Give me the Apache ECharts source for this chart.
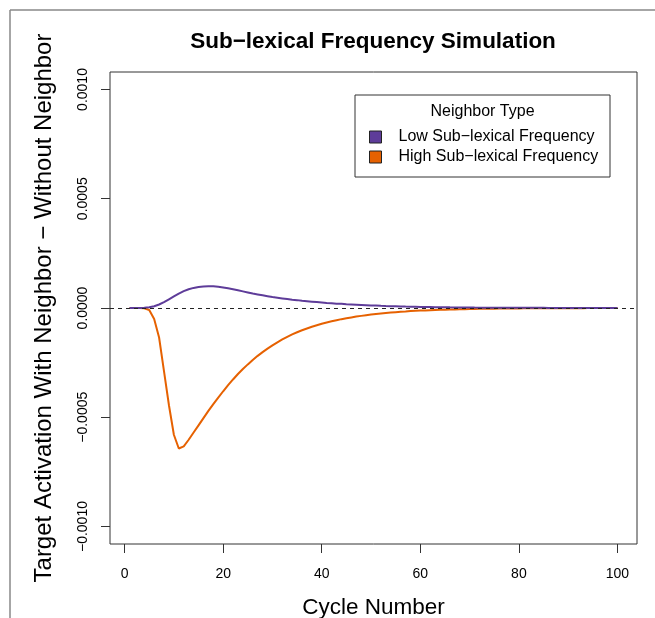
<!DOCTYPE html>
<html>
<head>
<meta charset="utf-8">
<script src="https://cdn.jsdelivr.net/npm/echarts@6/dist/echarts.min.js"></script>
<style>
  html, body { margin: 0; padding: 0; background: #fff; }
  #chart { width: 655px; height: 618px; }
</style>
</head>
<body>
<div id="chart"></div>
<script>
// cycle numbers (x)
var cycles = [
  1, 2, 3, 4, 5, 6, 7, 8, 9, 10, 11, 12, 13, 14, 15, 16, 17, 18, 19, 20,
  21, 22, 23, 24, 25, 26, 27, 28, 29, 30, 31, 32, 33, 34, 35, 36, 37, 38, 39, 40,
  41, 42, 43, 44, 45, 46, 47, 48, 49, 50, 51, 52, 53, 54, 55, 56, 57, 58, 59, 60,
  61, 62, 63, 64, 65, 66, 67, 68, 69, 70, 71, 72, 73, 74, 75, 76, 77, 78, 79, 80,
  81, 82, 83, 84, 85, 86, 87, 88, 89, 90, 91, 92, 93, 94, 95, 96, 97, 98, 99, 100
];

// Low sub-lexical frequency neighbor
var lowFreq = [
  0, 0, 0, 0.000001, 0.000003, 0.000008, 0.000016, 0.000027, 0.00004, 0.000053,
  0.000066, 0.000077, 0.000086, 0.000092, 0.000096, 0.000098, 0.000099, 0.000099, 0.000097, 0.000094,
  0.00009, 0.000086, 0.000081, 0.000076, 0.000071, 0.000066, 0.000062, 0.000058, 0.000054, 0.00005,
  0.000047, 0.000044, 0.000041, 0.000038, 0.000036, 0.000033, 0.000031, 0.000029, 0.000027, 0.000025,
  0.000023, 0.000022, 0.00002, 0.000019, 0.000017, 0.000016, 0.000015, 0.000014, 0.000013, 0.000012,
  0.000011, 0.00001, 9.2e-6, 8.5e-6, 7.8e-6, 7.1e-6, 6.5e-6, 6.0e-6, 5.5e-6, 5.0e-6,
  4.6e-6, 4.2e-6, 3.8e-6, 3.5e-6, 3.2e-6, 2.9e-6, 2.7e-6, 2.4e-6, 2.2e-6, 2.0e-6,
  1.8e-6, 1.7e-6, 1.5e-6, 1.4e-6, 1.3e-6, 1.2e-6, 1.1e-6, 1.0e-6, 0.9e-6, 0.8e-6,
  0.8e-6, 0.7e-6, 0.7e-6, 0.6e-6, 0.6e-6, 0.5e-6, 0.5e-6, 0.5e-6, 0.4e-6, 0.4e-6,
  0.4e-6, 0.3e-6, 0.3e-6, 0.3e-6, 0.3e-6, 0.2e-6, 0.2e-6, 0.2e-6, 0.2e-6, 0.2e-6
];

// High sub-lexical frequency neighbor
var highFreq = [
  0, 0, 0, -0.000001, -0.000009, -0.00005, -0.000135, -0.00029, -0.000445, -0.00058,
  -0.000643, -0.000633, -0.000603, -0.00057, -0.000537, -0.000504, -0.000471, -0.00044, -0.00041, -0.000381,
  -0.000353, -0.000327, -0.000302, -0.000279, -0.000258, -0.000238, -0.000219, -0.000202, -0.000186, -0.000171,
  -0.000157, -0.000144, -0.000132, -0.000121, -0.000111, -0.000102, -0.000094, -0.000086, -0.000079, -0.000072,
  -0.000066, -0.000061, -0.000056, -0.000051, -0.000047, -0.000043, -0.000039, -0.000036, -0.000033, -0.00003,
  -0.000027, -0.000025, -0.000023, -0.000021, -0.000019, -0.000017, -0.000016, -0.000014, -0.000013, -0.000012,
  -0.000011, -0.00001, -9.2e-6, -8.4e-6, -7.7e-6, -7.0e-6, -6.4e-6, -5.8e-6, -5.3e-6, -4.8e-6,
  -4.4e-6, -4.0e-6, -3.6e-6, -3.3e-6, -3.0e-6, -2.7e-6, -2.5e-6, -2.3e-6, -2.1e-6, -1.9e-6,
  -1.7e-6, -1.6e-6, -1.4e-6, -1.3e-6, -1.2e-6, -1.1e-6, -1.0e-6, -0.9e-6, -0.8e-6, -0.7e-6,
  -0.7e-6, -0.6e-6, -0.6e-6, -0.5e-6, -0.5e-6, -0.4e-6, -0.4e-6, -0.4e-6, -0.3e-6, -0.3e-6
];

var xTicks = [0, 20, 40, 60, 80, 100];
var yTicks = [-0.001, -0.0005, 0, 0.0005, 0.001];

function pairs (ys) {
  return cycles.map(function (c, i) { return [c, ys[i]]; });
}

var font = 'Liberation Sans, Arial, Helvetica, sans-serif';
var myChart = echarts.init(document.getElementById('chart'), null, { renderer: 'canvas' });

var option = {
  animation: false,
  backgroundColor: '#fff',
  title: {
    text: 'Sub\u2212lexical Frequency Simulation',
    left: 368,
    top: 25,
    textAlign: 'center',
    textStyle: { fontFamily: font, fontSize: 22.5, fontWeight: 'bold', color: '#000' }
  },
  grid: {
    left: 110, top: 72, right: 18, bottom: 74,
    outerBoundsMode: 'none',
    containLabel: false,
    show: true,
    borderColor: '#333',
    borderWidth: 1
  },
  legend: {
    data: ['Low Sub\u2212lexical Frequency', 'High Sub\u2212lexical Frequency'],
    orient: 'vertical',
    left: 369,
    top: 129,
    padding: 0,
    itemWidth: 12,
    itemHeight: 12,
    itemGap: 4,
    icon: 'rect',
    itemStyle: { borderColor: '#222', borderWidth: 1 },
    textStyle: { fontFamily: font, fontSize: 16, color: '#000', padding: [0, 0, 0, 12] }
  },
  graphic: [
    // outer frame (top + left)
    { type: 'line', shape: { x1: 10, y1: 10, x2: 655, y2: 10 }, style: { stroke: '#888', lineWidth: 1.5 } },
    { type: 'line', shape: { x1: 10, y1: 10, x2: 10, y2: 618 }, style: { stroke: '#888', lineWidth: 1.5 } },
    // legend box + title
    { type: 'rect', shape: { x: 355, y: 95, width: 255, height: 82 }, style: { fill: 'none', stroke: '#333', lineWidth: 1 } },
    { type: 'text', x: 482.5, y: 112, style: { text: 'Neighbor Type', font: '16px ' + font, fill: '#000', textAlign: 'center', textVerticalAlign: 'middle' } }
  ],
  xAxis: {
    type: 'value',
    min: -2.96,
    max: 103.96,
    name: 'Cycle Number',
    nameLocation: 'middle',
    nameGap: 52,
    nameTextStyle: { fontFamily: font, fontSize: 22.5, color: '#000' },
    axisLine: { show: false, onZero: false },
    splitLine: { show: false },
    axisTick: { show: true, length: 9, customValues: xTicks, lineStyle: { color: '#333' } },
    axisLabel: { customValues: xTicks, margin: 23, fontFamily: font, fontSize: 14, color: '#000' }
  },
  yAxis: {
    type: 'value',
    min: -0.00108,
    max: 0.00108,
    name: 'Target Activation With Neighbor \u2212 Without Neighbor',
    nameLocation: 'middle',
    nameGap: 54,
    nameTextStyle: { fontFamily: font, fontSize: 24, color: '#000' },
    axisLine: { show: false, onZero: false },
    splitLine: { show: false },
    axisTick: { show: true, length: 9, customValues: yTicks, lineStyle: { color: '#333' } },
    axisLabel: {
      customValues: yTicks,
      rotate: 90,
      margin: 20,
      fontFamily: font,
      fontSize: 14,
      color: '#000',
      formatter: function (v) {
        return (v < 0 ? '\u2212' : '') + Math.abs(v).toFixed(4);
      }
    }
  },
  series: [
    {
      name: 'High Sub\u2212lexical Frequency',
      type: 'line',
      data: pairs(highFreq),
      color: '#e66101',
      showSymbol: false,
      symbol: 'none',
      z: 2,
      lineStyle: { width: 2, color: '#e66101' }
    },
    {
      name: 'Low Sub\u2212lexical Frequency',
      type: 'line',
      data: pairs(lowFreq),
      color: '#5e3c99',
      showSymbol: false,
      symbol: 'none',
      z: 3,
      lineStyle: { width: 2, color: '#5e3c99' },
      markLine: {
        silent: true,
        symbol: 'none',
        label: { show: false },
        lineStyle: { color: '#222', width: 1.2, type: [4, 4] },
        data: [{ yAxis: 0 }]
      }
    }
  ]
};

option && myChart.setOption(option);
</script>
</body>
</html>
